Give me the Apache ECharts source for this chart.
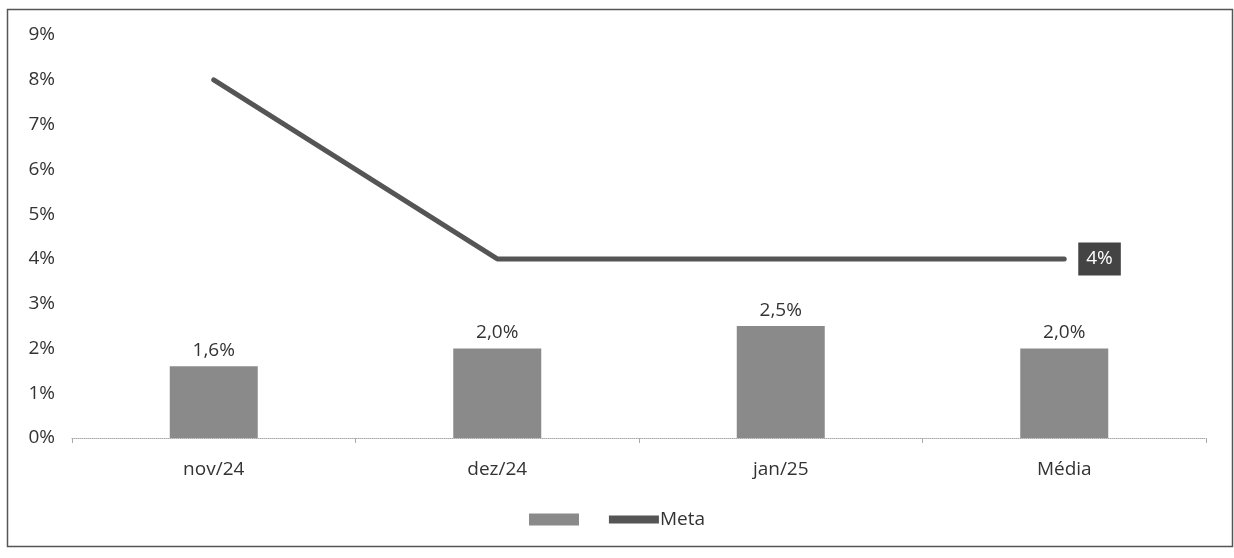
<!DOCTYPE html>
<html><head><meta charset="utf-8">
<script src="https://cdn.jsdelivr.net/npm/echarts@6/dist/echarts.min.js"></script>
<style>html,body{margin:0;padding:0;background:#fff;}#c{width:1234px;height:558px;}</style>
</head><body><div id="c"></div>
<script>
var categories = ['nov/24', 'dez/24', 'jan/25', 'Média'];
var barValues = [1.6, 2.0, 2.5, 2.0];
var metaValues = [8, 4, 4, 4];
var yTicks = [0, 1, 2, 3, 4, 5, 6, 7, 8, 9];

var chart = echarts.init(document.getElementById('c'));
var font = '"Open Sans", "Noto Sans", sans-serif';
chart.setOption({
  animation: false,
  backgroundColor: '#fff',
  textStyle: { fontFamily: font },
  graphic: [{
    type: 'rect', shape: { x: 7.5, y: 9.5, width: 1225, height: 537 },
    style: { fill: 'none', stroke: '#555', lineWidth: 1.5 }, silent: true
  }],
  grid: { left: 72, right: 28, top: 35, bottom: 120 },
  legend: {
    bottom: 24, left: 'center', itemGap: 24, itemWidth: 50, itemHeight: 12,
    textStyle: { fontFamily: font, fontSize: 19, color: '#333', padding: [0, 0, 0, -4] },
    data: [
      { name: ' ', icon: 'rect', itemStyle: { color: '#8a8a8a' } },
      { name: 'Meta', icon: 'path://M0,0 L1,0 L1,0.16 L0,0.16 Z', itemStyle: { color: '#555' } }
    ]
  },
  xAxis: {
    type: 'category', data: categories,
    axisLine: { lineStyle: { color: '#aaa', type: 'dotted', width: 1 } },
    axisTick: { show: true, length: 5, lineStyle: { color: '#aaa' } },
    axisLabel: { fontFamily: font, fontSize: 19, color: '#333', margin: 22 }
  },
  yAxis: {
    type: 'value', min: 0, max: 9, interval: 1,
    axisLine: { show: false }, axisTick: { show: false },
    splitLine: { show: false },
    axisLabel: { fontFamily: font, fontSize: 19, color: '#333', margin: 17,
      formatter: function (v) { return yTicks.indexOf(v) >= 0 ? v + '%' : ''; } }
  },
  series: [
    {
      name: ' ', type: 'bar', data: barValues, barWidth: 88,
      itemStyle: { color: '#8a8a8a' },
      label: { show: true, position: 'top', distance: 6, fontFamily: font, fontSize: 19, color: '#333',
        formatter: function (p) { return p.value.toFixed(1).replace('.', ',') + '%'; } }
    },
    {
      name: 'Meta', type: 'line', data: metaValues,
      symbol: 'none', lineStyle: { color: '#555', width: 5, cap: 'round' }, itemStyle: { color: '#555' },
      endLabel: { show: true, distance: 14, backgroundColor: '#444', color: '#fff',
        padding: [8, 8, 6, 8], fontFamily: font, fontSize: 19,
        formatter: function (p) { return p.value + '%'; } }
    }
  ]
});
</script></body></html>
